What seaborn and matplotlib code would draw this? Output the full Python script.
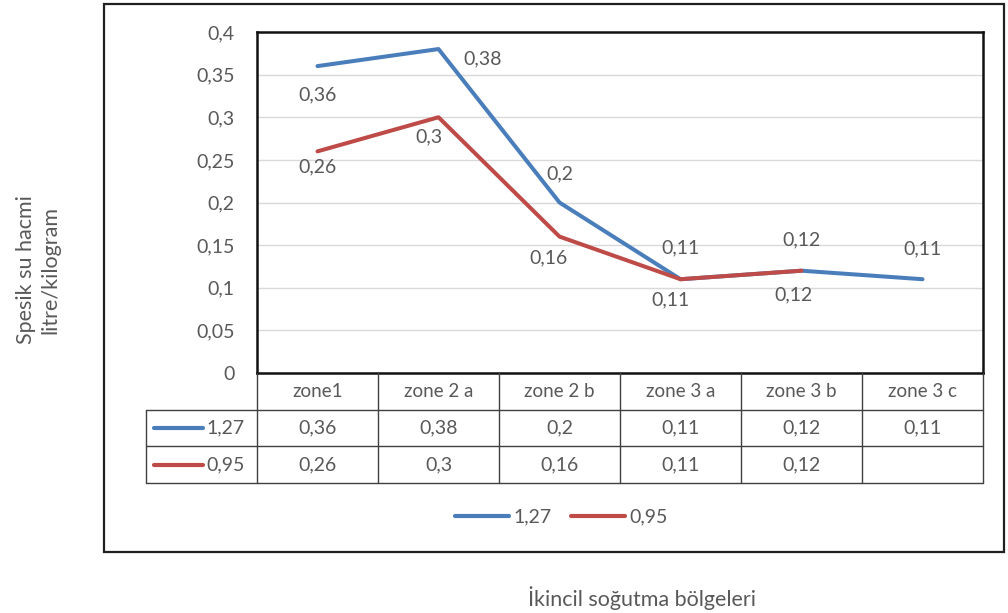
import numpy as np
import pandas as pd
import matplotlib
matplotlib.use("Agg")
import matplotlib.pyplot as plt
from matplotlib.patches import Rectangle
from matplotlib.lines import Line2D
import seaborn as sns

categories = ["zone1", "zone 2 a", "zone 2 b", "zone 3 a", "zone 3 b", "zone 3 c"]
series_names = ["1,27", "0,95"]
values_127 = [0.36, 0.38, 0.2, 0.11, 0.12, 0.11]
values_095 = [0.26, 0.3, 0.16, 0.11, 0.12, np.nan]
y_ticks = [0, 0.05, 0.1, 0.15, 0.2, 0.25, 0.3, 0.35, 0.4]
y_label = "Spesik su hacmi\nlitre/kilogram"
x_label = "İkincil soğutma bölgeleri"

colors = ["#4A7EBB", "#BE4B48"]
txt = "#595959"
FS = 14

sns.set_theme(style="white")
plt.rcParams['font.family'] = ['Lato', 'DejaVu Sans']

W, H = 1008, 613
fig = plt.figure(figsize=(W / 100, H / 100), dpi=100)

def fx(px):
    return px / W

def fy(py):
    return 1 - py / H

# outer frame
fig.patches.append(Rectangle((fx(104), fy(552)), fx(1004) - fx(104), fy(4) - fy(552),
                             transform=fig.transFigure, fill=False, edgecolor="#202020",
                             linewidth=1.6, zorder=0))

L, R, T, B = 257, 983, 32, 373
ax = fig.add_axes([fx(L), fy(B), fx(R) - fx(L), fy(T) - fy(B)])

df = pd.DataFrame({
    "idx": list(range(len(categories))) * 2,
    "val": values_127 + values_095,
    "series": [series_names[0]] * len(categories) + [series_names[1]] * len(categories),
})
sns.lineplot(data=df[df.series == series_names[0]], x="idx", y="val", color=colors[0],
             linewidth=2.9, ax=ax, legend=False, zorder=3)
sns.lineplot(data=df[df.series == series_names[1]].dropna(), x="idx", y="val", color=colors[1],
             linewidth=2.9, ax=ax, legend=False, zorder=4)

ax.set_xlim(-0.5, len(categories) - 0.5)
ax.set_ylim(0, 0.4)
ax.set_yticks(y_ticks)
ax.set_yticklabels([("%g" % v).replace(".", ",") for v in y_ticks], color=txt, fontsize=FS)
ax.tick_params(axis="y", length=0, pad=16)
ax.set_xticks([])
ax.set_xlabel("")
ax.set_ylabel("")
ax.grid(axis="y", color="#D9D9D9", linewidth=1)
for s in ax.spines.values():
    s.set_color("#111111")
    s.set_linewidth(1.8)

def fmt(v):
    return ("%g" % v).replace(".", ",")

# data labels (offsets in pixels)
off127 = [(0, -29), (44, -10), (0, 29), (0, 31), (0, 31), (0, 30)]
off095 = [(0, -16), (-10, -20), (-11, -21), (-10, -21), (-8, -24), None]
for i, v in enumerate(values_127):
    dx, dy = off127[i]
    ax.annotate(fmt(v), (i, v), xytext=(dx, dy), textcoords="offset pixels",
                ha="center", va="center", color=txt, fontsize=FS)
for i, v in enumerate(values_095):
    if np.isnan(v):
        continue
    dx, dy = off095[i]
    ax.annotate(fmt(v), (i, v), xytext=(dx, dy), textcoords="offset pixels",
                ha="center", va="center", color=txt, fontsize=FS)

# data table
n = len(categories)
colw_px = (R - L) / n
ext = (L - 146) / colw_px
tab = fig.add_axes([fx(146), fy(483), fx(R) - fx(146), fy(B) - fy(483)])
tab.set_xlim(-0.5 - ext, n - 0.5)
tab.set_ylim(3, 0)
tab.axis("off")
lc = "#404040"
lw = 1.0
for k in range(n + 1):
    tab.plot([-0.5 + k, -0.5 + k], [0, 3], color=lc, lw=lw, clip_on=False)
tab.plot([-0.5 - ext, -0.5 - ext], [1, 3], color=lc, lw=lw, clip_on=False)
for yy in [1, 2, 3]:
    tab.plot([-0.5 - ext, n - 0.5], [yy, yy], color=lc, lw=lw, clip_on=False)
for i, c in enumerate(categories):
    tab.text(i, 0.5, c, ha="center", va="center", color=txt, fontsize=FS - 0.5)
    tab.text(i, 1.5, fmt(values_127[i]), ha="center", va="center", color=txt, fontsize=FS)
    if not np.isnan(values_095[i]):
        tab.text(i, 2.5, fmt(values_095[i]), ha="center", va="center", color=txt, fontsize=FS)
for r, (name, col) in enumerate(zip(series_names, colors)):
    x0 = -0.5 - ext + 8 / colw_px
    x1 = -0.5 - ext + 57 / colw_px
    tab.plot([x0, x1], [1.5 + r, 1.5 + r], color=col, lw=3, solid_capstyle="round")
    tab.text(x1 + 3 / colw_px, 1.5 + r, name, ha="left", va="center", color=txt, fontsize=FS)

# legend
handles = [Line2D([0], [0], color=c, lw=3) for c in colors]
fig.legend(handles, series_names, loc="center", bbox_to_anchor=(fx(561), fy(517)),
           ncol=2, frameon=False, handlelength=2.8, handletextpad=0.2,
           columnspacing=1.0, fontsize=FS, labelcolor=txt)

fig.text(fx(38), fy(270), y_label, rotation=90, ha="center", va="center",
         color=txt, fontsize=15.5, linespacing=1.25)
fig.text(fx(642), fy(598), x_label, ha="center", va="center", color=txt, fontsize=15.5)

fig.savefig("out.png", dpi=100)
